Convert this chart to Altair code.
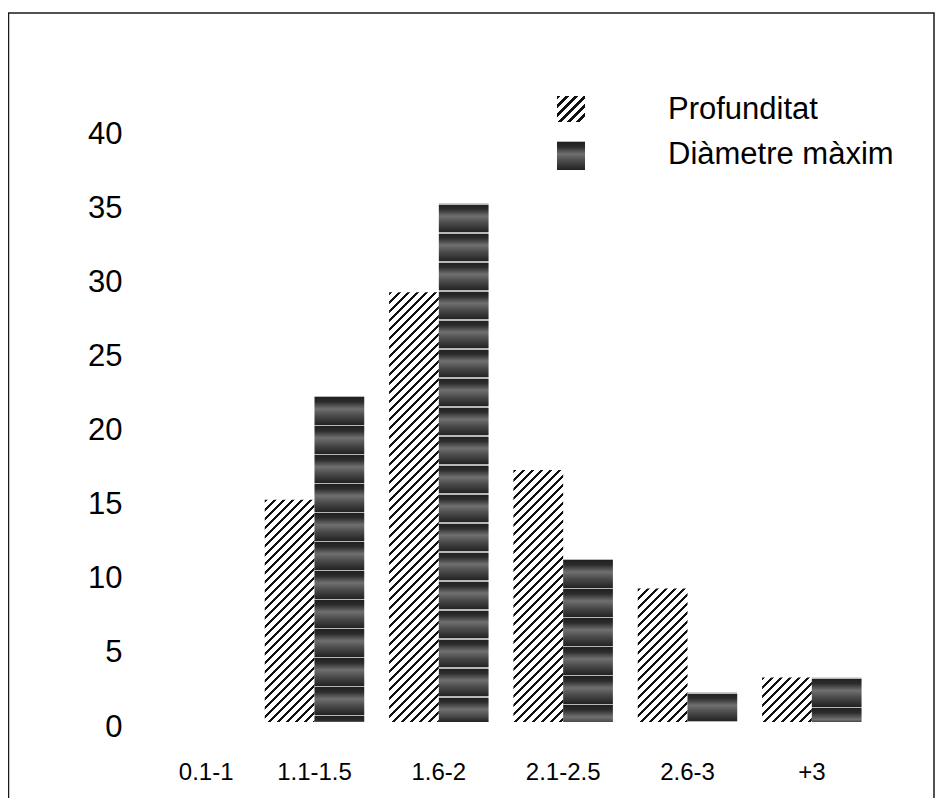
import altair as alt

# ---- data ----
categories = ["0.1-1", "1.1-1.5", "1.6-2", "2.1-2.5", "2.6-3", "+3"]
series = ["Profunditat", "Diàmetre màxim"]
profunditat = [0, 15, 29, 17, 9, 3]
diametre_maxim = [0, 22, 35, 11, 2, 3]
y_ticks = [0, 5, 10, 15, 20, 25, 30, 35, 40]

# ---- layout ----
PLOT_W = 746
PLOT_H = 667
Y_MAX = 45
PAD_IN = 0.2
PAD_OUT = 0.1
FONT = "Liberation Sans"

step = PLOT_W / (len(categories) - PAD_IN + 2 * PAD_OUT)
bar_w = step * (1 - PAD_IN) / 2
px_per_unit = PLOT_H / Y_MAX


def hatch(w, h, period=9.0, ink=3.2):
    """diagonal '////' hatching as a hard-stop linear gradient"""
    L = w + h
    stops = []
    pos = 0.0
    while pos < L:
        a = pos / L
        b = min((pos + ink) / L, 1.0)
        c = min((pos + period) / L, 1.0)
        stops += [
            {"offset": a, "color": "#111111"},
            {"offset": b, "color": "#111111"},
            {"offset": b, "color": "#ffffff"},
            {"offset": c, "color": "#ffffff"},
        ]
        pos += period
    d = w * w + h * h
    return {"gradient": "linear", "x1": 0, "y1": 0,
            "x2": w * L / d, "y2": h * L / d, "stops": stops}


def screen(h, period=29.0):
    """dark halftone with thin light horizontal bands"""
    seq = [(0, "#b8b8b8"), (1.3, "#b8b8b8"), (1.3, "#202020"), (6, "#2c2c2c"),
           (13, "#707070"), (20, "#4a4a4a"), (29, "#222222")]
    stops = []
    pos = 0.0
    while pos < h:
        for off, col in seq:
            stops.append({"offset": min((pos + off) / h, 1.0), "color": col})
        pos += period
    return {"gradient": "linear", "x1": 0, "y1": 0, "x2": 0, "y2": 1, "stops": stops}


records = []
for cat, p, dm in zip(categories, profunditat, diametre_maxim):
    for s, v in ((series[0], p), (series[1], dm)):
        if v <= 0:
            continue
        h = v * px_per_unit
        g = hatch(bar_w, h) if s == series[0] else screen(h)
        records.append({"cat": cat, "series": s, "value": v, "grad": g})

bars = alt.Chart(alt.Data(values=records)).mark_bar(strokeWidth=0).encode(
    x=alt.X("cat:N", sort=categories,
            scale=alt.Scale(domain=categories, paddingInner=PAD_IN, paddingOuter=PAD_OUT),
            axis=alt.Axis(title=None, labelAngle=0, domain=False, ticks=False,
                          labelFontSize=24, labelFont=FONT, labelColor="#000000",
                          labelBaseline="middle", labelPadding=50,
                          labelOffset={"condition": {"test": "datum.value == '0.1-1'", "value": 16},
                                       "value": 0})),
    xOffset=alt.XOffset("series:N", sort=series,
                        scale=alt.Scale(domain=series, paddingInner=0, paddingOuter=0)),
    y=alt.Y("value:Q", stack=None,
            scale=alt.Scale(domain=[0, Y_MAX], nice=False, zero=True),
            axis=alt.Axis(title=None, values=y_ticks, grid=False, domain=False, ticks=False,
                          labelFontSize=31, labelFont=FONT, labelColor="#000000",
                          labelPadding=6, labelOffset=5)),
    fill=alt.Fill("grad:N", scale=None),
)

one = alt.Data(values=[{}])

leg_sym1 = alt.Chart(one).mark_rect(fill=hatch(28, 26), strokeWidth=0).encode(
    x=alt.value(429), x2=alt.value(457), y=alt.value(41), y2=alt.value(67))
leg_sym2 = alt.Chart(one).mark_rect(fill=screen(29), strokeWidth=0).encode(
    x=alt.value(429), x2=alt.value(457), y=alt.value(86), y2=alt.value(115))
leg_txt1 = alt.Chart(one).mark_text(align="left", baseline="middle", fontSize=31,
                                    font=FONT, color="#000000").encode(
    x=alt.value(540), y=alt.value(55), text=alt.value(series[0]))
leg_txt2 = alt.Chart(one).mark_text(align="left", baseline="middle", fontSize=31,
                                    font=FONT, color="#000000").encode(
    x=alt.value(540), y=alt.value(100), text=alt.value(series[1]))

frame = alt.Chart(one).mark_rect(filled=False, stroke="#1a1a1a", strokeWidth=1.5).encode(
    x=alt.value(-119.5), x2=alt.value(806), y=alt.value(-42), y2=alt.value(PLOT_H + 200))

chart = alt.layer(frame, bars, leg_sym1, leg_sym2, leg_txt1, leg_txt2).properties(
    width=PLOT_W, height=PLOT_H,
    padding={"left": 120, "top": 47, "right": 61, "bottom": 76},
    autosize=alt.AutoSizeParams(type="none"),
    background="#ffffff",
).configure(font=FONT).configure_view(stroke="transparent", strokeWidth=0)

chart.save("out.html", embed_options={"renderer": "svg", "actions": False})
